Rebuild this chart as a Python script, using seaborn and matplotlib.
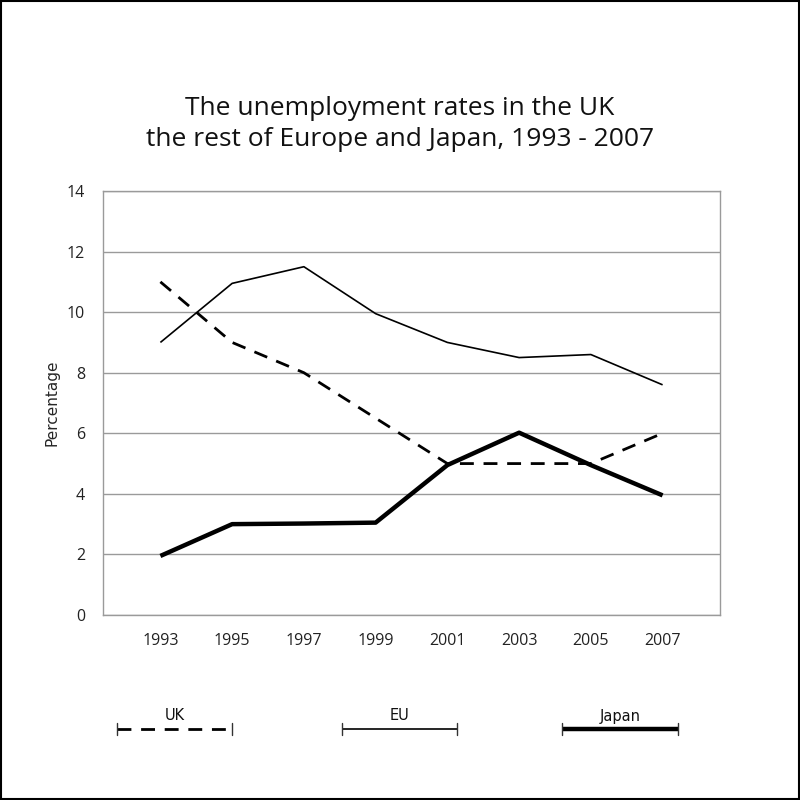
import matplotlib
matplotlib.use("Agg")
import matplotlib.pyplot as plt
import seaborn as sns
import pandas as pd
from matplotlib.lines import Line2D
from matplotlib.patches import Rectangle

years = ["1993", "1995", "1997", "1999", "2001", "2003", "2005", "2007"]
uk = [11, 9, 8, 6.5, 5, 5, 5, 6]
eu = [9, 10.95, 11.5, 9.95, 9, 8.5, 8.6, 7.6]
japan = [1.95, 3.0, 3.02, 3.05, 4.95, 6.02, 4.95, 3.95]
series_names = ["UK", "EU", "Japan"]

sns.set_theme(style="white")
plt.rcParams['font.family'] = ['Open Sans', 'DejaVu Sans']

rows = []
for name, vals in zip(series_names, [uk, eu, japan]):
    for i, (y, v) in enumerate(zip(years, vals)):
        rows.append({"idx": i, "year": y, "value": v, "series": name})
df = pd.DataFrame(rows)

fig = plt.figure(figsize=(8, 8), dpi=100)
ax = fig.add_axes([0.12875, 0.23125, 0.77125, 0.53])

styles = {
    "UK": dict(lw=2.0, dashes=(5, 3.5)),
    "EU": dict(lw=1.2),
    "Japan": dict(lw=3.2),
}
for name in series_names:
    sub = df[df.series == name]
    kw = styles[name]
    sns.lineplot(data=sub, x="idx", y="value", ax=ax, color="black",
                 lw=kw["lw"], legend=False)
for l, name in zip(ax.get_lines(), series_names):
    if "dashes" in styles[name]:
        l.set_dashes(styles[name]["dashes"])
    l.set_solid_capstyle("butt")

ax.set_xlim(-0.8, 7.8)
ax.set_ylim(0, 14)
ax.set_yticks(range(0, 15, 2))
ax.set_xticks(range(len(years)))
ax.set_xticklabels(years)
ax.set_xlabel("")
ax.set_ylabel("Percentage", fontsize=11, family=['DejaVu Sans'], labelpad=5)
ax.tick_params(axis="both", length=0, labelsize=11.5, colors="#222222")
ax.tick_params(axis="y", pad=13)
ax.tick_params(axis="x", pad=13)
ax.grid(axis="y", color="#9a9a9a", lw=1)
ax.set_axisbelow(True)
for s in ax.spines.values():
    s.set_color("#9a9a9a")
    s.set_linewidth(1)

fig.text(0.5, 1 - 124 / 800, "The unemployment rates in the UK\nthe rest of Europe and Japan, 1993 - 2007",
         ha="center", va="center", fontsize=19, linespacing=1.3, color="#111111")

# legend items
leg_specs = [("UK", 117, 232, dict(lw=2.0, ls=(0, (5, 3.5)))),
             ("EU", 342, 457, dict(lw=1.2, ls="-")),
             ("Japan", 562, 678, dict(lw=3.2, ls="-"))]
for name, x1, x2, st in leg_specs:
    y = 1 - 729 / 800
    fig.add_artist(Line2D([x1 / 800, x2 / 800], [y, y], color="black",
                          transform=fig.transFigure, solid_capstyle="butt", **st))
    for xe in (x1, x2):
        fig.add_artist(Line2D([xe / 800, xe / 800], [y - 0.008, y + 0.008], color="#333333",
                              lw=1, transform=fig.transFigure))
    fig.text((x1 + x2) / 1600, 1 - 716 / 800, name, ha="center", va="center",
             fontsize=10.5, family=['DejaVu Sans'], color="#111111")

fig.add_artist(Rectangle((0.001, 0.001), 0.998, 0.998, transform=fig.transFigure,
                         fill=False, edgecolor="black", lw=1.5))

fig.savefig("out.png", dpi=100)
